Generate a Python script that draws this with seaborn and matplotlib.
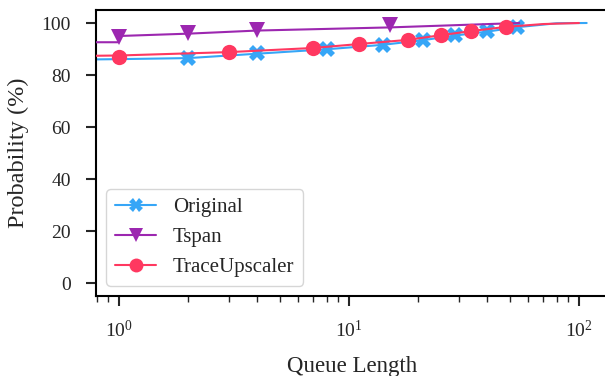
import matplotlib
matplotlib.use("Agg")
import matplotlib.pyplot as plt
from matplotlib.lines import Line2D
import seaborn as sns
import pandas as pd

# line data (queue length, cumulative probability %)
orig_line_x = [0.79, 1, 2, 4, 8, 14, 21, 29, 40, 54, 80, 108]
orig_line_y = [86.0, 86.1, 86.5, 88.2, 89.9, 91.6, 93.4, 95.2, 96.7, 98.4, 99.9, 100.0]
tspan_line_x = [0.79, 1, 1, 2, 4, 15, 55]
tspan_line_y = [92.6, 92.6, 95.0, 95.9, 97.1, 98.3, 100.0]
tu_line_x = [0.79, 1, 3, 7, 11, 18, 25, 34, 48, 70, 100]
tu_line_y = [87.4, 87.5, 88.8, 90.4, 91.9, 93.5, 95.3, 96.9, 98.5, 99.6, 100.0]

# marker data
orig_mark_x = [2, 4, 8, 14, 21, 29, 40, 54]
orig_mark_y = [86.4, 88.3, 90.0, 91.7, 93.6, 95.4, 96.8, 98.6]
tspan_mark_x = [1, 2, 4, 15]
tspan_mark_y = [94.5, 96.0, 97.4, 99.2]
tu_mark_x = [1, 3, 7, 11, 18, 25, 34, 48]
tu_mark_y = [86.9, 88.8, 90.4, 91.9, 93.5, 95.4, 96.9, 98.5]

labels = ["Original", "Tspan", "TraceUpscaler"]
colors = ["#36A6F7", "#9C27B0", "#FF3860"]
markers = ["X", "v", "o"]

sns.set_style("ticks")
plt.rcParams["font.family"] = ["Liberation Serif", "DejaVu Serif"]
plt.rcParams["mathtext.fontset"] = "stix"

fig = plt.figure(figsize=(6.05, 3.76), dpi=100)
ax = fig.add_axes([96 / 605, 80 / 376, 512 / 605, 286 / 376])

series = [
    (orig_line_x, orig_line_y, orig_mark_x, orig_mark_y, 11),
    (tspan_line_x, tspan_line_y, tspan_mark_x, tspan_mark_y, 11),
    (tu_line_x, tu_line_y, tu_mark_x, tu_mark_y, 11),
]
handles = []
for i, (lx, ly, mx, my, ms) in enumerate(series):
    line_df = pd.DataFrame({"x": lx, "y": ly})
    mark_df = pd.DataFrame({"x": mx, "y": my})
    sns.lineplot(data=line_df, x="x", y="y", ax=ax, color=colors[i], lw=1.5,
                 sort=False, estimator=None, zorder=2 + i * 2)
    ax.plot(mark_df["x"], mark_df["y"], ls="none", marker=markers[i],
            ms=ms, color=colors[i], markeredgewidth=0, zorder=3 + i * 2)
    handles.append(Line2D([], [], color=colors[i], lw=1.5, marker=markers[i],
                          ms=ms - 1, markeredgewidth=0, label=labels[i]))

ax.set_xscale("log")
ax.set_xlim(10 ** -0.1, 10 ** (2.1 + 512 / 230 - 2.2))
ax.set_ylim(-5, 105)
ax.set_yticks([0, 20, 40, 60, 80, 100])
ax.set_xlabel("Queue Length", fontsize=16.5, labelpad=11)
ax.set_ylabel("Probability (%)", fontsize=17.5, labelpad=9)
ax.tick_params(axis="both", which="major", labelsize=14, length=7, width=1.5, direction="out")
ax.tick_params(axis="y", which="major", pad=11)
ax.tick_params(axis="x", which="major", pad=10)
ax.tick_params(axis="x", which="minor", length=4, width=1.0)
for s in ["left", "bottom", "top"]:
    ax.spines[s].set_linewidth(1.5)
    ax.spines[s].set_color("black")
ax.spines["right"].set_visible(False)

ax.legend(handles=handles, loc="lower left", fontsize=15, frameon=True,
          bbox_to_anchor=(0.0, 0.0), borderaxespad=0.5)

fig.savefig("out.png", dpi=100)
